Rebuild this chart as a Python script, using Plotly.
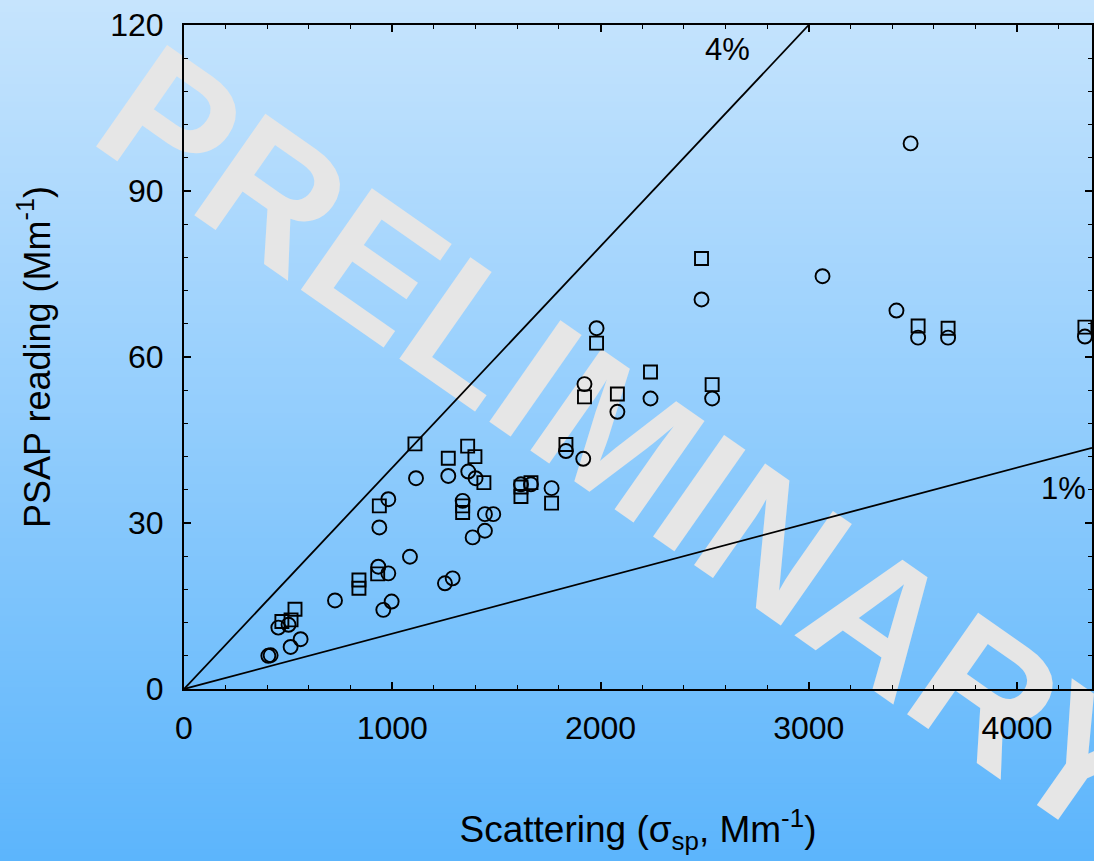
import numpy as np
import plotly.graph_objects as go

# Samples measured with circles (open) and squares (open)
circle_x = [405, 416, 512, 560, 453, 502, 725, 957, 997, 933, 981, 1085, 938, 981,
            1114, 1253, 1290, 1269, 1365, 1400, 1338, 1386, 1445, 1445, 1485, 1618,
            1666, 1765, 1834, 1917, 1923, 1981, 2081, 2240, 2485, 2536, 3066, 3421,
            3489, 3525, 3669, 4326]
circle_y = [6.0, 6.1, 7.6, 9.0, 11.1, 11.6, 16.0, 14.3, 15.8, 22.1, 20.9, 23.9, 29.2, 34.3,
            38.1, 19.1, 20.0, 38.5, 39.3, 38.1, 34.0, 27.4, 28.6, 31.6, 31.6, 37.0,
            37.0, 36.3, 43.0, 41.6, 55.1, 65.2, 50.1, 52.5, 70.4, 52.5, 74.6, 68.4,
            98.6, 63.5, 63.5, 63.7]

square_x = [533, 470, 514, 840, 840, 930, 938, 1109, 1269, 1362, 1397, 1440, 1338, 1338,
            1618, 1618, 1666, 1765, 1834, 1923, 1981, 2081, 2240, 2485, 2536, 3525,
            3669, 4326]
square_y = [14.4, 12.2, 12.5, 19.7, 18.2, 20.8, 33.1, 44.3, 41.7, 43.9, 42.0, 37.3, 33.1, 31.9,
            36.5, 34.8, 37.3, 33.6, 44.2, 52.8, 62.5, 53.3, 57.3, 77.8, 55.0, 65.6,
            65.2, 65.4]

# Reference absorption/scattering ratios
ref_slopes = [0.04, 0.01]
ref_labels = ["4%", "1%"]
ref_label_x = [2612, 4221]
ref_label_y = [115.5, 36.3]

x_max = 4360
y_max = 120
x_tick_step = 1000
y_tick_step = 30

# Page geometry
W, H = 1094, 861
ML, MR, MT, MB = 184, 2, 25, 172
PW, PH = W - ML - MR, H - MT - MB

FONT = "Liberation Sans, Arial, Helvetica, sans-serif"


def px_to_paper_x(px):
    return (px - ML) / PW


def px_to_paper_y(py):
    return (H - MB - py) / PH


fig = go.Figure()

# vertical background gradient built from thin strips
top_rgb = np.array([198, 228, 253])
bottom_rgb = np.array([92, 181, 252])
n_strips = 144
for i in range(n_strips):
    t = (i + 0.5) / n_strips
    c = top_rgb + (bottom_rgb - top_rgb) * t
    py0 = H * i / n_strips
    py1 = H * (i + 1) / n_strips + 1
    fig.add_shape(
        type="rect", xref="paper", yref="paper", layer="below",
        x0=px_to_paper_x(0), x1=px_to_paper_x(W),
        y0=px_to_paper_y(py1), y1=px_to_paper_y(py0),
        line=dict(width=0),
        fillcolor="rgb(%d,%d,%d)" % tuple(int(round(v)) for v in c),
    )

# watermark behind the data
wm_cx, wm_cy = 637, 428
fig.add_shape(
    type="rect", xref="paper", yref="paper", layer="below",
    x0=px_to_paper_x(wm_cx - 5), x1=px_to_paper_x(wm_cx + 5),
    y0=px_to_paper_y(wm_cy + 5), y1=px_to_paper_y(wm_cy - 5),
    line=dict(width=0), fillcolor="rgba(0,0,0,0)",
    label=dict(text="PRELIMINARY", textangle=35, textposition="middle center",
               font=dict(family=FONT, size=180, color="#e6e6e6", weight="bold")),
)

# reference ratio lines
for slope in ref_slopes:
    xs = [0, min(x_max, y_max / slope)]
    fig.add_trace(go.Scatter(
        x=xs, y=[slope * v for v in xs], mode="lines",
        line=dict(color="black", width=1.8), hoverinfo="skip", showlegend=False,
    ))

fig.add_trace(go.Scatter(
    x=circle_x, y=circle_y, mode="markers", showlegend=False,
    marker=dict(symbol="circle-open", size=14, color="black", line=dict(width=1.9, color="black")),
))
fig.add_trace(go.Scatter(
    x=square_x, y=square_y, mode="markers", showlegend=False,
    marker=dict(symbol="square-open", size=13, color="black", line=dict(width=1.9, color="black")),
))

for lx, ly, txt in zip(ref_label_x, ref_label_y, ref_labels):
    fig.add_annotation(x=lx, y=ly, text=txt, showarrow=False,
                       font=dict(family=FONT, size=31, color="black"))

axis_common = dict(
    ticks="inside", ticklen=7, tickwidth=1.5, tickcolor="black",
    showline=True, linewidth=2, linecolor="black", mirror="ticks",
    showgrid=False, zeroline=False,
    tickfont=dict(family=FONT, size=32, color="black"),
)

fig.update_layout(
    width=W, height=H,
    margin=dict(l=ML, r=MR, t=MT, b=MB, autoexpand=False),
    paper_bgcolor="rgb(150,205,252)",
    plot_bgcolor="rgba(0,0,0,0)",
    xaxis=dict(
        range=[0, x_max], tick0=0, dtick=x_tick_step, ticklabelstandoff=10,
        minor=dict(dtick=200, tick0=0, ticks="inside", ticklen=4, tickwidth=1, tickcolor="black"),
        title=dict(text="Scattering (σ<sub>sp</sub>, Mm<sup>-1</sup>)",
                   font=dict(family=FONT, size=37, color="black"), standoff=71),
        **axis_common,
    ),
    yaxis=dict(
        range=[0, y_max], tick0=0, dtick=y_tick_step, ticklabelstandoff=12,
        minor=dict(dtick=6, tick0=0, ticks="inside", ticklen=4, tickwidth=1, tickcolor="black"),
        title=dict(text="PSAP reading (Mm<sup>-1</sup>)",
                   font=dict(family=FONT, size=36, color="black"), standoff=49),
        **axis_common,
    ),
)

fig.write_html("out.html")
